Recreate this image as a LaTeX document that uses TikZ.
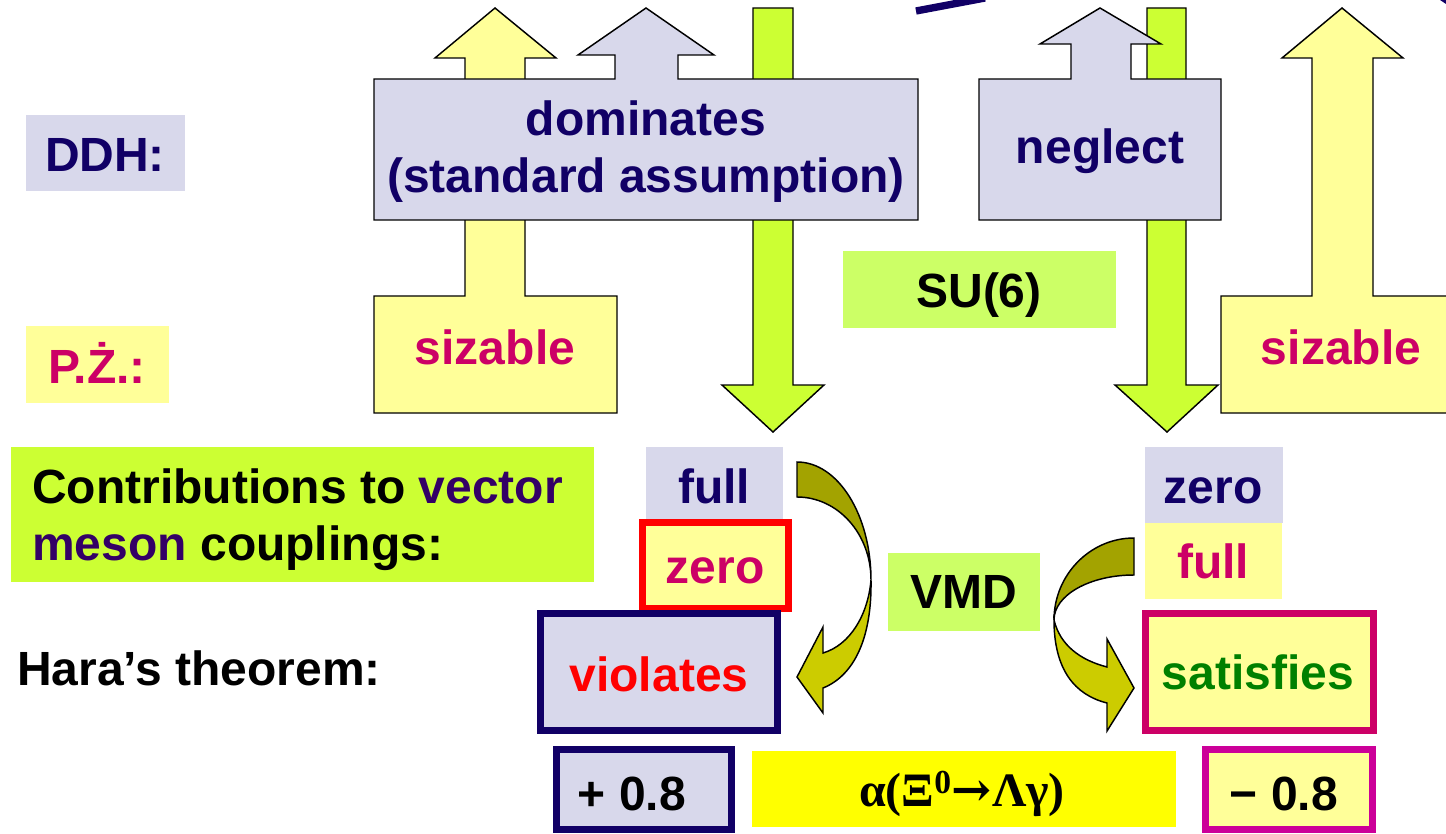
\documentclass[tikz,border=0pt]{standalone}
\usepackage{fontspec}
\setmainfont{Liberation Sans}
\newfontfamily\timesfont{Liberation Serif}
\newfontfamily\arrowfont{DejaVu Serif}
\definecolor{lav}{RGB}{216,216,235}
\definecolor{navytxt}{RGB}{17,0,102}
\definecolor{pyellow}{RGB}{255,255,153}
\definecolor{lgreen}{RGB}{204,255,51}
\definecolor{sgreen}{RGB}{204,255,102}
\definecolor{crimson}{RGB}{204,0,102}
\definecolor{olived}{RGB}{163,163,0}
\definecolor{olivel}{RGB}{204,204,0}
\definecolor{purp}{RGB}{51,0,102}
\definecolor{magb}{RGB}{204,0,153}
\definecolor{ybright}{RGB}{255,255,0}
\definecolor{greentxt}{RGB}{0,128,0}
\begin{document}
\begin{tikzpicture}[x=0.75pt,y=-0.75pt,
  txt/.style={font=\fontsize{36}{42}\selectfont\bfseries, inner sep=0pt, anchor=base},
  outl/.style={draw=black, line width=1.1pt, line join=miter},
  thickbox/.style={line width=5.25pt},
]
\useasboundingbox (0,0) rectangle (1446,834);

% top navy stroke (part of an ellipse)
\draw[navytxt, line width=5.5pt] (916,11) -- (985,-2);
\fill[navytxt] (1440,0) -- (1446,0) -- (1446,4) -- cycle;

% left column of block arrows
\path[outl, fill=pyellow] (374,413) -- (374,296) -- (465,296) -- (465,58) -- (435,58) -- (495,8) -- (556,58) -- (525,58) -- (525,296) -- (617,296) -- (617,413) -- cycle;
\path[outl, fill=lgreen] (753,8) -- (793,8) -- (793,385) -- (824,385) -- (773,432) -- (722,385) -- (753,385) -- cycle;
\path[outl, fill=lav] (374,220) -- (374,79) -- (615,79) -- (615,55) -- (578,55) -- (646,8) -- (714,55) -- (678,55) -- (678,79) -- (918,79) -- (918,220) -- cycle;

% right column of block arrows
\path[outl, fill=lgreen] (1147,8) -- (1186,8) -- (1186,385) -- (1218,385) -- (1167,432) -- (1115,385) -- (1147,385) -- cycle;
\path[outl, fill=lav] (979,220) -- (979,79) -- (1071,79) -- (1071,44) -- (1040,44) -- (1100,8) -- (1161,44) -- (1131,44) -- (1131,79) -- (1221,79) -- (1221,220) -- cycle;
\path[outl, fill=pyellow] (1221,413) -- (1221,296) -- (1312,296) -- (1312,58) -- (1282,58) -- (1342,8) -- (1403,58) -- (1373,58) -- (1373,296) -- (1470,296) -- (1470,413) -- cycle;

% label boxes
\fill[lav] (26,115) rectangle (185,191);
\fill[pyellow] (26,326) rectangle (169,403);
\fill[sgreen] (843,251) rectangle (1116,328);
\fill[lgreen] (11,447) rectangle (594,582);

% left result column
\fill[lav] (646,447) rectangle (783,520);
\filldraw[fill=pyellow, draw=red, thickbox] (642.5,522.5) rectangle (788.5,608.5);
\filldraw[fill=lav, draw=navytxt, thickbox] (540.5,613.5) rectangle (777.5,730.5);

% left curved arrow
\path[outl, fill=olived] (797,462) .. controls (838,462) and (871,515) .. (871,580)
  .. controls (871,534) and (838,497) .. (797,497) -- cycle;
\path[outl, fill=olivel] (871,580) .. controls (868,615) and (850,645) .. (823,653)
  -- (823,627) -- (797,677) -- (823,713) -- (823,688)
  .. controls (853,676) and (872,640) .. (871,580) -- cycle;

% VMD
\fill[sgreen] (888,553) rectangle (1040,631);

% right curved arrow
\path[outl, fill=olived] (1134,538) .. controls (1090,538) and (1054,575) .. (1054,620)
  .. controls (1054,595) and (1090,575) .. (1134,575) -- cycle;
\path[outl, fill=olivel] (1054,620) .. controls (1060,645) and (1080,660) .. (1107,667)
  -- (1107,639) -- (1134,688) -- (1107,731) -- (1107,703)
  .. controls (1075,695) and (1054,670) .. (1054,620) -- cycle;

% right result column
\fill[lav] (1145,447) rectangle (1283,523);
\fill[pyellow] (1145,523) rectangle (1282,599);
\filldraw[fill=pyellow, draw=crimson, thickbox] (1145.5,613.5) rectangle (1373.5,730.5);

% bottom row
\filldraw[fill=lav, draw=navytxt, thickbox] (556.5,749.5) rectangle (731.5,829.5);
\fill[ybright] (752,751) rectangle (1176,827);
\filldraw[fill=pyellow, draw=magb, thickbox] (1205.5,749.5) rectangle (1372.5,829.5);

% texts
\node[txt, text=navytxt] (ddh) at (105,172) {DDH:};
\node[txt, text=crimson] (pz) at (97,383) {P.Ż.:};
\node[txt, text=navytxt] (dom1) at (646,136) {dominates};
\node[txt, text=navytxt] (dom2) at (646,193) {(standard assumption)};
\node[txt, text=navytxt] (negl) at (1100,164) {neglect};
\node[txt, text=crimson] (siz1) at (495,364) {sizable};
\node[txt, text=crimson] (siz2) at (1341,364) {sizable};
\node[txt] (su6) at (979,308) {SU(6)};
\node[txt, anchor=base west] (contrib1) at (32,503) {Contributions to \textcolor{purp}{vector}};
\node[txt, anchor=base west] (contrib2) at (32,560) {\textcolor{purp}{meson} couplings:};
\node[txt, anchor=base west] (hara) at (17,685) {Hara’s theorem:};
\node[txt, text=navytxt] (full1) at (714,503) {full};
\node[txt, text=crimson] (zero1) at (715,583) {zero};
\node[txt, text=red] (viol) at (659,691) {violates};
\node[txt] (vmd) at (964,608) {VMD};
\node[txt, text=navytxt] (zero2) at (1213,503) {zero};
\node[txt, text=crimson] (full2) at (1213,578) {full};
\node[txt, text=greentxt] (sat) at (1258,689) {satisfies};
\node[txt] (plus) at (632,810) {+ 0.8};
\node[txt] (minus) at (1284,810) {− 0.8};
\node[txt, font=\fontsize{36}{42}\selectfont\timesfont\bfseries] (alpha) at (962,806) {α(Ξ\textsuperscript{0}{\arrowfont\bfseries →}Λγ)};
\end{tikzpicture}
\end{document}
